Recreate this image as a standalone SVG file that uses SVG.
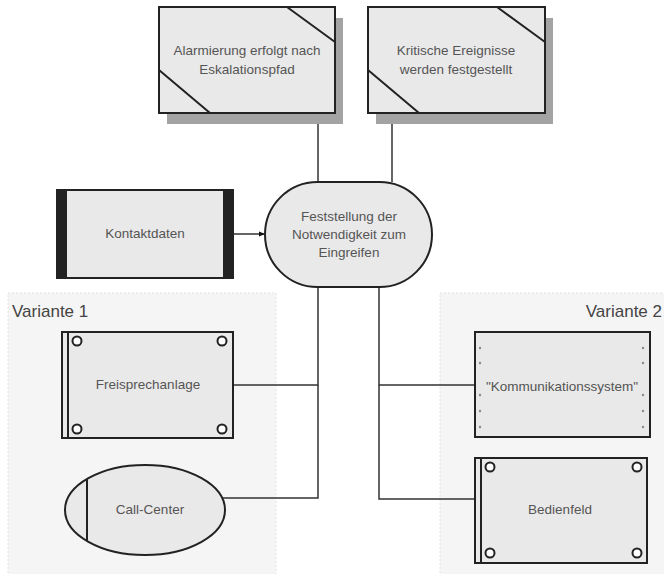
<svg xmlns="http://www.w3.org/2000/svg" width="664" height="574" viewBox="0 0 664 574">
<defs>
<style>
.bx{fill:#e9e9e9;stroke:#222;stroke-width:2}
.sh{fill:#a3a3a3}
.ln{fill:none;stroke:#333;stroke-width:1.5}
.th{fill:none;stroke:#222;stroke-width:2}
.t{font-family:"Liberation Sans",Arial,sans-serif;font-size:13.5px;fill:#555;text-anchor:middle}
.g{fill:#f5f5f5;stroke:#e2e2e2;stroke-width:1;stroke-dasharray:2 2}
.gt{font-family:"Liberation Sans",Arial,sans-serif;font-size:17px;fill:#444}
.dot{fill:#888}
.c{fill:#fff;stroke:#222;stroke-width:2}
</style>
<marker id="ar" viewBox="0 0 10 10" refX="10" refY="5" markerWidth="6" markerHeight="6" orient="auto" markerUnits="userSpaceOnUse">
<path d="M0,1 L10,5 L0,9 z" fill="#111"/>
</marker>
</defs>
<rect width="664" height="574" fill="#fff"/>

<g id="variante1">
<rect class="g" x="8" y="293" width="268" height="290"/>
<text class="gt" x="12" y="317">Variante 1</text>
</g>
<g id="variante2">
<rect class="g" x="440" y="293" width="232" height="290"/>
<text class="gt" x="662" y="317" text-anchor="end">Variante 2</text>
</g>

<g id="connectors">
<path class="ln" d="M318,113 V182"/>
<path class="ln" d="M392,113 V182"/>
<path class="ln" d="M233,234 H265" marker-end="url(#ar)"/>
<path class="ln" d="M318,287 V385 H233"/>
<path class="ln" d="M318,385 V498 H223"/>
<path class="ln" d="M379,287 V385 H475"/>
<path class="ln" d="M379,385 V499 H475"/>
</g>

<g id="alarmierung">
<rect class="sh" x="167" y="18" width="176" height="106"/>
<rect class="bx" x="159" y="7" width="176" height="106"/>
<path class="th" d="M287,7 L335,42 M159,70 L210,113"/>
<text class="t" x="247" y="55">Alarmierung erfolgt nach</text>
<text class="t" x="247" y="74">Eskalationspfad</text>
</g>

<g id="kritische">
<rect class="sh" x="376" y="18" width="177" height="106"/>
<rect class="bx" x="368" y="7" width="177" height="106"/>
<path class="th" d="M497,7 L545,42 M368,70 L419,113"/>
<text class="t" x="456" y="55">Kritische Ereignisse</text>
<text class="t" x="456" y="74">werden festgestellt</text>
</g>

<g id="kontaktdaten">
<rect class="bx" x="57" y="190" width="176" height="88"/>
<rect x="57" y="190" width="10" height="88" fill="#222"/>
<rect x="223" y="190" width="10" height="88" fill="#222"/>
<text class="t" x="145" y="238">Kontaktdaten</text>
</g>

<g id="feststellung">
<rect class="bx" x="265" y="182" width="167" height="105" rx="52.5" ry="52.5"/>
<text class="t" x="349" y="221">Feststellung der</text>
<text class="t" x="349" y="239">Notwendigkeit zum</text>
<text class="t" x="349" y="257">Eingreifen</text>
</g>

<g id="freisprechanlage">
<rect class="bx" x="62" y="332" width="171" height="106"/>
<path class="th" d="M68,332 V438"/>
<circle class="c" cx="77" cy="341" r="4.5"/>
<circle class="c" cx="222" cy="341" r="4.5"/>
<circle class="c" cx="77" cy="429" r="4.5"/>
<circle class="c" cx="222" cy="429" r="4.5"/>
<text class="t" x="148" y="389">Freisprechanlage</text>
</g>

<g id="callcenter">
<ellipse class="bx" cx="145" cy="510" rx="80" ry="45"/>
<path class="th" d="M87,479 V541"/>
<text class="t" x="150" y="514">Call-Center</text>
</g>

<g id="kommunikationssystem">
<rect class="bx" x="475" y="332" width="175" height="105"/>
<g class="dot">
<circle cx="480" cy="348" r="1.2"/><circle cx="480" cy="363" r="1.2"/><circle cx="480" cy="395" r="1.2"/><circle cx="480" cy="411" r="1.2"/><circle cx="480" cy="427" r="1.2"/>
<circle cx="643" cy="348" r="1.2"/><circle cx="643" cy="363" r="1.2"/><circle cx="643" cy="395" r="1.2"/><circle cx="643" cy="411" r="1.2"/><circle cx="643" cy="427" r="1.2"/>
</g>
<text class="t" x="562" y="391">"Kommunikationssystem"</text>
</g>

<g id="bedienfeld">
<rect class="bx" x="475" y="458" width="172" height="105"/>
<path class="th" d="M481,458 V563"/>
<circle class="c" cx="490" cy="467" r="4.5"/>
<circle class="c" cx="637" cy="467" r="4.5"/>
<circle class="c" cx="490" cy="553" r="4.5"/>
<circle class="c" cx="637" cy="553" r="4.5"/>
<text class="t" x="560" y="514">Bedienfeld</text>
</g>
</svg>
